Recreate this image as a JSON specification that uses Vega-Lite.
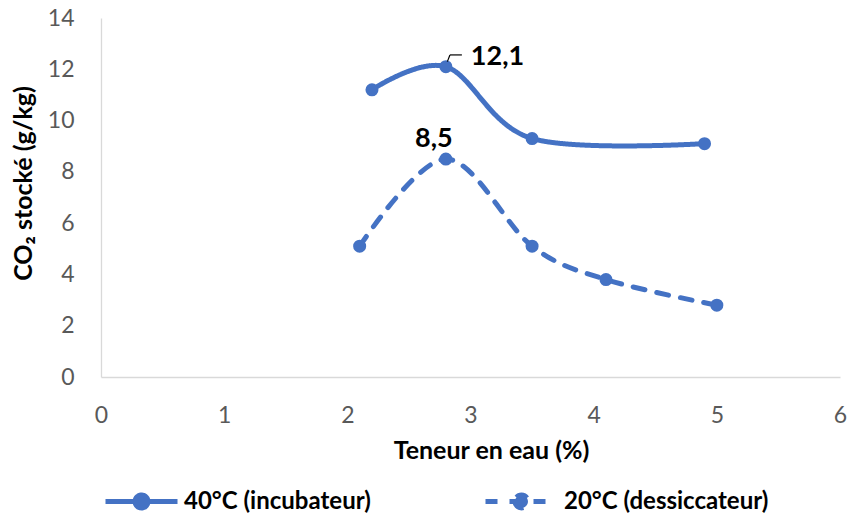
{
  "$schema": "https://vega.github.io/schema/vega-lite/v6.json",
  "width": 739,
  "height": 359,
  "autosize": "none",
  "padding": {"left": 101, "top": 18, "right": 10, "bottom": 136},
  "background": "white",
  "config": {
    "view": {"stroke": null},
    "font": "Lato",
    "axis": {
      "grid": false,
      "ticks": false,
      "labelFlush": false,
      "domainColor": "#D9D9D9",
      "domainWidth": 1.3,
      "labelColor": "#595959",
      "labelFontSize": 23,
      "labelFont": "Lato",
      "titleFont": "Lato",
      "titleFontWeight": "bold",
      "titleColor": "#000000",
      "titleFontSize": 25
    }
  },
  "data": {
    "values": [
      {"serie": "40°C (incubateur)", "teneur": 2.2, "co2": 11.2},
      {"serie": "40°C (incubateur)", "teneur": 2.8, "co2": 12.1, "lbl": "12,1"},
      {"serie": "40°C (incubateur)", "teneur": 3.5, "co2": 9.3},
      {"serie": "40°C (incubateur)", "teneur": 4.9, "co2": 9.1},
      {"serie": "20°C (dessiccateur)", "teneur": 2.1, "co2": 5.1},
      {"serie": "20°C (dessiccateur)", "teneur": 2.8, "co2": 8.5, "lbl": "8,5"},
      {"serie": "20°C (dessiccateur)", "teneur": 3.5, "co2": 5.1},
      {"serie": "20°C (dessiccateur)", "teneur": 4.1, "co2": 3.8},
      {"serie": "20°C (dessiccateur)", "teneur": 5.0, "co2": 2.8}
    ]
  },
  "encoding": {
    "x": {
      "field": "teneur",
      "type": "quantitative",
      "scale": {"domain": [0, 6], "nice": false},
      "axis": {"values": [0, 1, 2, 3, 4, 5, 6], "title": "Teneur en eau (%)", "labelPadding": 27, "titlePadding": 11, "titleX": 390, "titleAlign": "center", "format": "d"}
    },
    "y": {
      "field": "co2",
      "type": "quantitative",
      "scale": {"domain": [0, 14], "nice": false},
      "axis": {"values": [0, 2, 4, 6, 8, 10, 12, 14], "title": "CO₂ stocké (g/kg)", "labelPadding": 27, "titlePadding": 11, "titleY": 165, "titleAlign": "center", "format": "d"}
    }
  },
  "layer": [
    {
      "mark": {"type": "line", "interpolate": "cardinal", "strokeWidth": 5, "color": "#4472C4", "strokeCap": "round"},
      "encoding": {
        "strokeDash": {
          "field": "serie",
          "type": "nominal",
          "sort": ["40°C (incubateur)", "20°C (dessiccateur)"],
          "scale": {"domain": ["40°C (incubateur)", "20°C (dessiccateur)"], "range": [[1, 0], [12, 12]]},
          "legend": {
            "orient": "none",
            "legendX": 2,
            "legendY": 445,
            "direction": "horizontal",
            "title": null,
            "symbolType": "M-1,0H1M-0.18,0A0.18,0.18,0,1,0,0.18,0A0.18,0.18,0,1,0,-0.18,0Z",
            "symbolSize": 5184,
            "symbolStrokeWidth": 5,
            "symbolStrokeColor": "#4472C4",
            "symbolFillColor": "#4472C4",
            "labelFontSize": 24,
            "labelFontWeight": "bold",
            "labelColor": "#000000",
            "labelFont": "Lato",
            "labelOffset": 4,
            "columnPadding": 104,
            "padding": 0,
            "labelLimit": 400,
            "encode": {"symbols": {"update": {"fill": {"value": "#4472C4"}, "stroke": {"value": "#4472C4"}}}}
          }
        }
      }
    },
    {
      "mark": {"type": "point", "filled": true, "size": 170, "opacity": 1, "color": "#4472C4"}
    },
    {
      "transform": [{"filter": "datum.lbl == '12,1'"}],
      "mark": {"type": "text", "align": "left", "baseline": "middle", "dx": 25, "dy": -10, "fontSize": 27, "fontWeight": "bold", "color": "#000000", "font": "Lato"},
      "encoding": {"text": {"field": "lbl"}}
    },
    {
      "transform": [{"filter": "datum.lbl == '8,5'"}],
      "mark": {"type": "text", "align": "center", "baseline": "middle", "dx": -12, "dy": -20, "fontSize": 27, "fontWeight": "bold", "color": "#000000", "font": "Lato"},
      "encoding": {"text": {"field": "lbl"}}
    },
    {
      "data": {
        "values": [
          {"teneur": 2.812, "co2": 12.3, "teneur2": 2.833, "co22": 12.56},
          {"teneur": 2.833, "co2": 12.56, "teneur2": 2.93, "co22": 12.56}
        ]
      },
      "mark": {"type": "rule", "color": "#000000", "strokeWidth": 1.2},
      "encoding": {
        "x2": {"field": "teneur2"},
        "y2": {"field": "co22"}
      }
    }
  ]
}
